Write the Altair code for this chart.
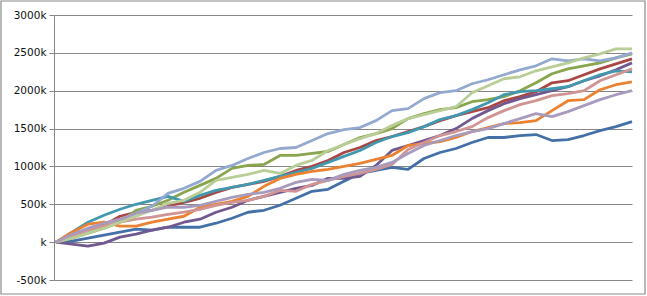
import altair as alt
import pandas as pd

# time index (days) shared by every series
days = list(range(0, 289, 8))

dark_blue = [0, 13, 53, 92, 132, 171, 158, 197, 197, 197, 250, 316, 395, 421, 487, 579, 671, 697, 803, 908, 947, 987, 961, 1105, 1184, 1237, 1316, 1382, 1382, 1408, 1421, 1342, 1355, 1408, 1474, 1526, 1592]
red = [0, 66, 132, 224, 342, 395, 421, 474, 526, 579, 658, 724, 763, 803, 868, 947, 1000, 1079, 1184, 1250, 1342, 1395, 1461, 1526, 1605, 1671, 1724, 1776, 1868, 1921, 1987, 2105, 2132, 2211, 2289, 2355, 2421]
green = [0, 53, 118, 184, 263, 421, 474, 553, 658, 750, 842, 974, 1013, 1026, 1145, 1145, 1171, 1197, 1289, 1382, 1434, 1500, 1632, 1697, 1750, 1776, 1855, 1882, 1921, 2000, 2105, 2224, 2289, 2329, 2368, 2434, 2487]
purple = [0, -26, -53, -13, 66, 105, 158, 197, 263, 303, 395, 461, 553, 605, 658, 711, 750, 842, 842, 868, 1013, 1211, 1276, 1342, 1408, 1500, 1632, 1737, 1829, 1895, 1947, 2000, 2053, 2132, 2197, 2276, 2368]
teal = [0, 132, 263, 355, 434, 500, 553, 605, 539, 618, 684, 724, 763, 816, 868, 921, 974, 1053, 1132, 1211, 1316, 1395, 1447, 1526, 1618, 1671, 1750, 1842, 1947, 1987, 2000, 2026, 2053, 2132, 2211, 2263, 2250]
orange = [0, 132, 237, 263, 211, 211, 263, 303, 342, 461, 500, 539, 605, 737, 842, 895, 934, 961, 1000, 1039, 1092, 1145, 1276, 1303, 1329, 1382, 1461, 1513, 1566, 1579, 1605, 1737, 1868, 1882, 2013, 2079, 2118]
light_blue = [0, 79, 145, 211, 289, 382, 474, 645, 711, 803, 947, 1013, 1105, 1184, 1237, 1250, 1342, 1434, 1487, 1513, 1605, 1737, 1763, 1895, 1974, 2000, 2092, 2145, 2211, 2276, 2329, 2421, 2395, 2421, 2395, 2434, 2500]
pink = [0, 79, 158, 211, 263, 303, 329, 368, 395, 434, 487, 526, 553, 605, 684, 671, 763, 816, 868, 908, 961, 1026, 1224, 1316, 1408, 1461, 1526, 1645, 1737, 1816, 1868, 1934, 1961, 2000, 2132, 2211, 2289]
light_green = [0, 53, 118, 184, 263, 342, 421, 513, 553, 658, 816, 855, 895, 947, 908, 1013, 1079, 1211, 1289, 1368, 1434, 1539, 1632, 1684, 1737, 1789, 1974, 2066, 2158, 2184, 2263, 2316, 2368, 2434, 2487, 2553, 2553]
lavender = [0, 105, 184, 250, 303, 382, 421, 461, 461, 487, 539, 592, 632, 658, 711, 789, 829, 816, 895, 947, 987, 1053, 1171, 1276, 1342, 1408, 1461, 1500, 1566, 1632, 1697, 1658, 1724, 1803, 1882, 1947, 2000]

series_names = ["S01", "S02", "S03", "S04", "S05", "S06", "S07", "S08", "S09", "S10"]
series_values = [dark_blue, red, green, purple, teal, orange, light_blue, pink, light_green, lavender]
series_colors = ["#4470A8", "#AA4643", "#89A54E", "#71588F", "#4198AF", "#EB8232",
                 "#93A9D0", "#D09493", "#B9CD96", "#A99BBD"]

y_ticks = [-500, 0, 500, 1000, 1500, 2000, 2500, 3000]

rows = []
for name, vals in zip(series_names, series_values):
    for d, v in zip(days, vals):
        rows.append({"series": name, "day": d, "value": v})
df = pd.DataFrame(rows)

lines = alt.Chart(df).mark_line(strokeWidth=2.8, strokeJoin="round", clip=False).encode(
    x=alt.X("day:Q", scale=alt.Scale(domain=[-1, 288], nice=False, zero=False),
            axis=alt.Axis(labels=False, ticks=False, domain=False, grid=False, title=None)),
    y=alt.Y("value:Q", scale=alt.Scale(domain=[-500, 3000], nice=False),
            axis=alt.Axis(values=y_ticks, title=None, grid=True,
                          labelExpr="datum.value == 0 ? 'k' : datum.value + 'k'")),
    color=alt.Color("series:N", scale=alt.Scale(domain=series_names, range=series_colors), legend=None),
    detail="series:N",
)

border = alt.Chart(pd.DataFrame({"a": [0]})).mark_rect(
    filled=False, stroke="#8A8A8A", strokeWidth=1.2
).encode(
    x=alt.value(-53), x2=alt.value(591), y=alt.value(-14), y2=alt.value(279)
)

chart = alt.layer(border, lines).properties(
    width=578, height=265,
    autosize=alt.AutoSizeParams(type="none"),
    padding={"left": 54, "top": 15, "right": 15, "bottom": 16},
    background="white",
).configure_view(stroke=None).configure_axisY(
    gridColor="#868686", gridWidth=1, domainColor="#868686", domainWidth=1,
    tickColor="#868686", tickSize=5, labelFont="DejaVu Sans", labelFontSize=10.5,
    labelColor="#111111", labelPadding=3
)

chart.save("out.html", embed_options={"renderer": "svg", "actions": False})
